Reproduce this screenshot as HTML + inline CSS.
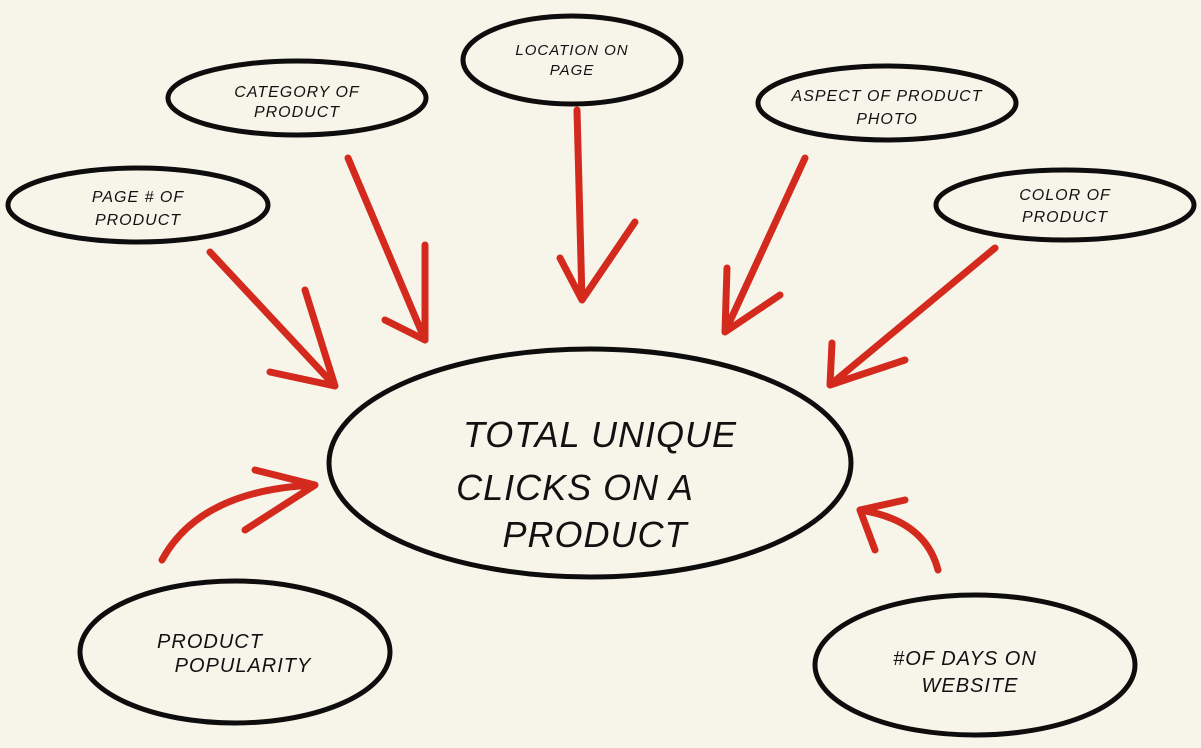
<!DOCTYPE html>
<html><head><style>
html,body{margin:0;padding:0;background:#f7f5ea;}
svg{display:block}
text{font-family:"Liberation Sans",sans-serif;font-style:italic;fill:#111;text-anchor:middle;letter-spacing:1px}
</style></head><body>
<svg width="1201" height="748" viewBox="0 0 1201 748">
<rect width="1201" height="748" fill="#f7f5ea"/>
<g fill="none" stroke="#0d0d0d" stroke-width="5">
<ellipse cx="572" cy="60" rx="109" ry="44"/>
<ellipse cx="297" cy="98" rx="129" ry="37"/>
<ellipse cx="887" cy="103" rx="129" ry="37"/>
<ellipse cx="138" cy="205" rx="130" ry="37"/>
<ellipse cx="1065" cy="205" rx="129" ry="35"/>
<ellipse cx="590" cy="463" rx="261" ry="114"/>
<ellipse cx="235" cy="652" rx="155" ry="71"/>
<ellipse cx="975" cy="665" rx="160" ry="70"/>
</g>
<g fill="none" stroke="#d42a1e" stroke-width="7" stroke-linecap="round" stroke-linejoin="round">
<path d="M210 252 L335 386 M305 290 L335 386 L270 372"/>
<path d="M348 158 L425 340 M425 245 L425 340 L385 320"/>
<path d="M577 110 L582 300 M560 258 L582 300 L635 222"/>
<path d="M805 158 L725 332 M780 295 L725 332 L727 268"/>
<path d="M995 248 L830 385 M832 343 L830 385 L905 360"/>
<path d="M162 560 Q200 490 315 485 M255 470 L315 485 L245 530"/>
<path d="M938 570 Q925 520 860 510 M905 500 L860 510 L875 550"/>
</g>
<text x="572" y="55" font-size="15">LOCATION ON</text>
<text x="572" y="75" font-size="15">PAGE</text>
<text x="297" y="97" font-size="16">CATEGORY OF</text>
<text x="297" y="117" font-size="16">PRODUCT</text>
<text x="887" y="101" font-size="16">ASPECT OF PRODUCT</text>
<text x="887" y="124" font-size="16">PHOTO</text>
<text x="138" y="202" font-size="16">PAGE # OF</text>
<text x="138" y="225" font-size="16">PRODUCT</text>
<text x="1065" y="200" font-size="16">COLOR OF</text>
<text x="1065" y="222" font-size="16">PRODUCT</text>
<text x="600" y="447" font-size="36">TOTAL UNIQUE</text>
<text x="575" y="500" font-size="36">CLICKS ON A</text>
<text x="595" y="547" font-size="36">PRODUCT</text>
<text x="210" y="648" font-size="20">PRODUCT</text>
<text x="243" y="672" font-size="20">POPULARITY</text>
<text x="965" y="665" font-size="20">#OF DAYS ON</text>
<text x="970" y="692" font-size="20">WEBSITE</text>
</svg>
</body></html>
